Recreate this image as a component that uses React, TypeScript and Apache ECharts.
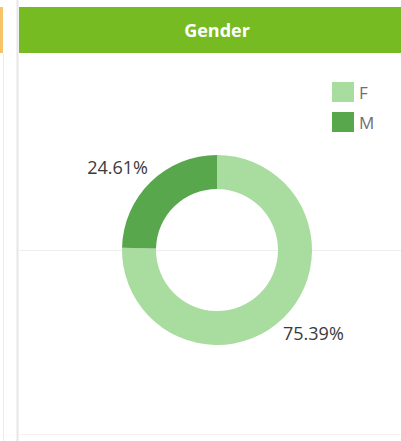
import React, { useEffect, useRef } from "react";
import * as echarts from "echarts";

const categories = ["F", "M"];
const values = [75.39, 24.61];
const colors = ["#a9dc9f", "#58a74d"];
const title = "Gender";

export default function App() {
  const ref = useRef<HTMLDivElement>(null);
  useEffect(() => {
    if (!ref.current) return;
    const chart = echarts.init(ref.current, undefined, { renderer: "svg" });
    const cx = 217;
    const cy = 250;
    const labelPos = [
      { x: 283, y: 333, align: "left" },
      { x: 148, y: 167, align: "right" },
    ];
    chart.setOption({
      animation: false,
      backgroundColor: "#ffffff",
      graphic: [
        { type: "rect", z: -10, shape: { x: 0, y: 7, width: 3, height: 46 }, style: { fill: "#f7c46a" } },
        { type: "line", z: -10, shape: { x1: 3.5, y1: 53, x2: 3.5, y2: 441 }, style: { stroke: "#ececec", lineWidth: 1 } },
        { type: "line", z: -10, shape: { x1: 17.5, y1: 0, x2: 17.5, y2: 441 }, style: { stroke: "#e6e6e6", lineWidth: 2 } },
        { type: "rect", z: -5, shape: { x: 19, y: 7, width: 382, height: 46 }, style: { fill: "#77bb22" } },
        {
          type: "text",
          z: 10,
          x: 217,
          y: 30,
          style: {
            text: title,
            fill: "#ffffff",
            font: "bold 18px 'Open Sans', sans-serif",
            textAlign: "center",
            textVerticalAlign: "middle",
          },
        },
        { type: "line", z: -10, shape: { x1: 19, y1: 250.5, x2: 401, y2: 250.5 }, style: { stroke: "#eeeeee", lineWidth: 1 } },
        { type: "line", z: -10, shape: { x1: 19, y1: 434.5, x2: 401, y2: 434.5 }, style: { stroke: "#f2f2f2", lineWidth: 1 } },
      ],
      legend: {
        orient: "vertical",
        left: 327,
        top: 77,
        itemWidth: 22,
        itemHeight: 20,
        itemGap: 10,
        icon: "rect",
        textStyle: { color: "#707070", fontSize: 17, fontFamily: "'Open Sans', sans-serif", padding: [0, 0, 0, 0] },
        data: categories,
      },
      series: [
        {
          type: "pie",
          center: [cx, cy],
          radius: [61, 95],
          startAngle: 90,
          clockwise: true,
          silent: true,
          label: {
            show: true,
            formatter: (p: any) => p.value.toFixed(2) + "%",
            color: "#3a3a3a",
            fontSize: 18,
            fontFamily: "'Open Sans', sans-serif",
          },
          labelLine: { show: false },
          labelLayout: (p: any) => ({
            x: labelPos[p.dataIndex].x,
            y: labelPos[p.dataIndex].y,
            align: labelPos[p.dataIndex].align,
            verticalAlign: "middle",
          }),
          data: categories.map((c, i) => ({ name: c, value: values[i], itemStyle: { color: colors[i] } })),
        },
      ],
    });
    return () => chart.dispose();
  }, []);
  return <div ref={ref} style={{ position: "fixed", left: 0, top: 0, width: 401, height: 441 }} />;
}
